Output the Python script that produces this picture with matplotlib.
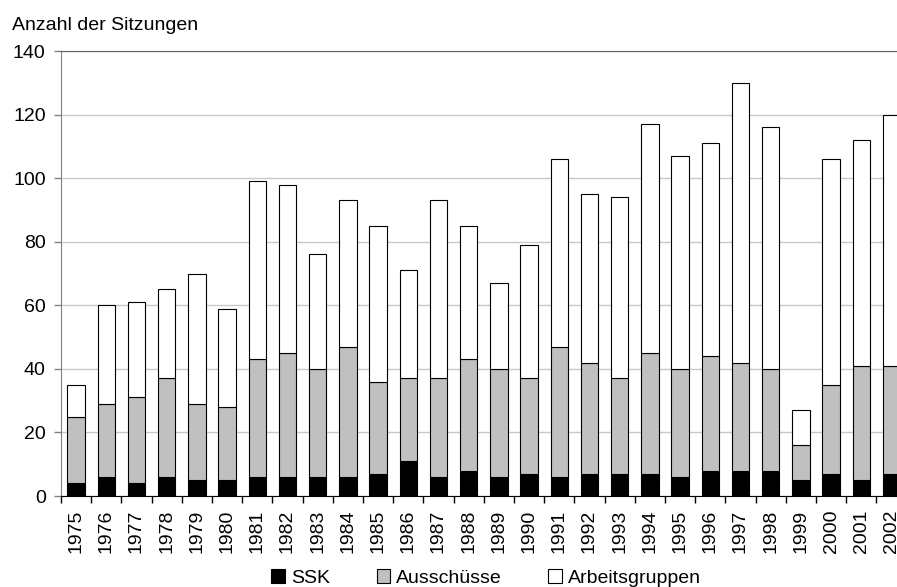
import matplotlib.pyplot as plt
import numpy as np

plt.rcParams['font.family'] = ['Liberation Sans', 'DejaVu Sans']

# Sitzungen pro Jahr
years = [str(y) for y in range(1975, 2003)]
ssk = [4, 6, 4, 6, 5, 5, 6, 6, 6, 6, 7, 11, 6, 8, 6, 7, 6, 7, 7, 7, 6, 8, 8, 8, 5, 7, 5, 7]
ausschuesse_top = [25, 29, 31, 37, 29, 28, 43, 45, 40, 47, 36, 37, 37, 43, 40, 37,
                   47, 42, 37, 45, 40, 44, 42, 40, 16, 35, 41, 41]
totals = [35, 60, 61, 65, 70, 59, 99, 98, 76, 93, 85, 71, 93, 85, 67, 79,
          106, 95, 94, 117, 107, 111, 130, 116, 27, 106, 112, 120]

ausschuesse = [a - s for a, s in zip(ausschuesse_top, ssk)]
arbeitsgruppen = [t - a for t, a in zip(totals, ausschuesse_top)]

fig = plt.figure(figsize=(8.97, 5.87), dpi=100)
ax = fig.add_axes([0.068, 0.155, 0.9427, 0.758])

x = np.arange(len(years))
w = 0.58
ax.bar(x, ssk, w, color='black', edgecolor='black', linewidth=0.8, label='SSK', zorder=3)
ax.bar(x, ausschuesse, w, bottom=ssk, color='#c0c0c0', edgecolor='black',
       linewidth=0.8, label='Ausschüsse', zorder=3)
ax.bar(x, arbeitsgruppen, w, bottom=ausschuesse_top, color='white', edgecolor='black',
       linewidth=0.8, label='Arbeitsgruppen', zorder=3)

ax.set_xlim(-0.5, len(years) - 0.5)
ax.set_ylim(0, 140)
ax.set_yticks(range(0, 141, 20))
ax.yaxis.grid(True, color='#c8c8c8', linewidth=1, zorder=0)
ax.tick_params(axis='y', length=5, width=1, color='#808080', pad=6, labelsize=14)

ax.set_xticks(x)
ax.set_xticklabels(years, rotation=90, fontsize=14)
ax.set_xticks(np.arange(-0.5, len(years) - 0.5, 1), minor=True)
ax.tick_params(axis='x', which='major', length=0, pad=10)
ax.tick_params(axis='x', which='minor', length=5, width=1, color='black')

ax.spines['left'].set_color('#808080')
ax.spines['top'].set_color('#606060')
ax.spines['bottom'].set_color('black')
ax.spines['right'].set_visible(False)

fig.text(0.013, 0.957, 'Anzahl der Sitzungen', fontsize=14, va='center', ha='left')

fig.legend(loc='lower center', bbox_to_anchor=(0.542, -0.03), ncol=3, frameon=False,
           fontsize=14, handlelength=0.7, handleheight=0.7, handletextpad=0.3,
           columnspacing=2.4)

fig.savefig('out.png', dpi=100)
